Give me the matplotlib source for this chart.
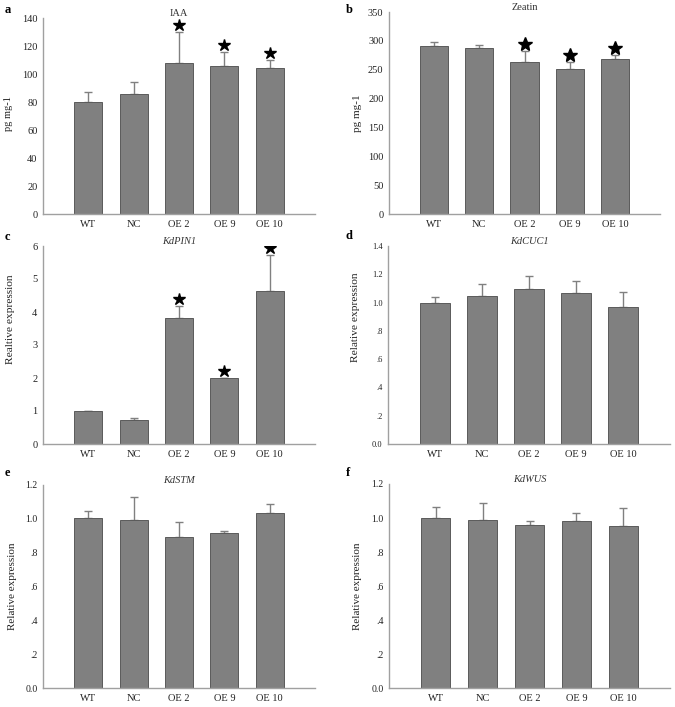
import matplotlib
matplotlib.use('Agg')
import matplotlib.pyplot as plt

plt.rcParams['font.family'] = ['Liberation Serif', 'DejaVu Serif']

# categories shared by all panels
lines = ['WT', 'NC', 'OE 2', 'OE 9', 'OE 10']

# a  IAA content
iaa = [80, 86, 108, 106, 104]
iaa_err = [7, 8.5, 22, 10, 6]
iaa_star = [False, False, True, True, True]

# b  Zeatin content
zeatin = [290.5, 288, 263.5, 251, 268]
zeatin_err = [7, 4, 19.5, 12, 8]
zeatin_star = [False, False, True, True, True]

# c  KdPIN1
pin1 = [0.99, 0.74, 3.81, 1.99, 4.64]
pin1_err = [0.02, 0.04, 0.38, 0.02, 1.09]
pin1_star = [False, False, True, True, True]

# d  KdCUC1
cuc1 = [1.00, 1.05, 1.094, 1.066, 0.967]
cuc1_err = [0.04, 0.08, 0.096, 0.09, 0.111]

# e  KdSTM
stm = [1.006, 0.994, 0.894, 0.915, 1.033]
stm_err = [0.041, 0.136, 0.09, 0.016, 0.054]

# f  KdWUS
wus = [1.002, 0.986, 0.957, 0.980, 0.953]
wus_err = [0.061, 0.102, 0.027, 0.047, 0.108]

W, H = 675, 707
fig = plt.figure(figsize=(W / 100, H / 100), dpi=100)


def px_axes(left, right, top, bottom):
    return fig.add_axes([left / W, 1 - bottom / H, (right - left) / W, (bottom - top) / H])


def draw_panel(ax, vals, errs, ymax, step, ticklabels, title, italic, ylabel,
               lab_x, lab_y, tick_fs, lab_fs, stars=None, star_size=9):
    x = list(range(len(lines)))
    ax.bar(x, vals, width=0.62, color='#808080', edgecolor='#5a5a5a', linewidth=0.7, zorder=2)
    ax.errorbar(x, vals, yerr=[[0] * len(vals), errs], fmt='none', ecolor='#808080',
                elinewidth=1.0, capsize=3, capthick=1.0, zorder=1)
    if stars is not None:
        for xi, v, e, s in zip(x, vals, errs, stars):
            if s:
                ax.plot(xi, v + e + ymax * 0.035, marker='*', color='black',
                        markersize=star_size, zorder=3)
    ax.set_xlim(-1, 5)
    ax.set_ylim(0, ymax)
    ticks = [i * step for i in range(len(ticklabels))]
    ax.set_yticks(ticks)
    ax.set_yticklabels(ticklabels, fontsize=tick_fs)
    ax.set_xticks(x)
    ax.set_xticklabels(lines, fontsize=7.5)
    ax.tick_params(length=0, pad=4, colors='#222222')
    for s in ['top', 'right']:
        ax.spines[s].set_visible(False)
    for s in ['left', 'bottom']:
        ax.spines[s].set_color('#a0a0a0')
        ax.spines[s].set_linewidth(1.0)
    ax.set_ylabel(ylabel, fontsize=lab_fs, color='#222222')
    ax.yaxis.set_label_coords(lab_x, lab_y)
    ax.text(0.5, 1.0, title, transform=ax.transAxes, ha='center', va='bottom',
            fontsize=7.5, style='italic' if italic else 'normal', color='#333333')


num = lambda v: [str(t) for t in v]
rel_ticks = ['0.0', '.2', '.4', '.6', '.8', '1.0', '1.2']

ax_a = px_axes(43, 315, 18, 214)
draw_panel(ax_a, iaa, iaa_err, 140, 20, num(range(0, 141, 20)), 'IAA', False,
           'pg mg-1', -0.11, 0.51, 7.5, 7.5, iaa_star)

ax_b = px_axes(389, 660, 12, 214)
draw_panel(ax_b, zeatin, zeatin_err, 350, 50, num(range(0, 351, 50)), 'Zeatin', False,
           'pg mg-1', -0.1, 0.5, 7.5, 8, zeatin_star, 10)

ax_c = px_axes(43, 315, 246, 444)
draw_panel(ax_c, pin1, pin1_err, 6, 1, num(range(0, 7)), 'KdPIN1', True,
           'Realtive expression', -0.103, 0.63, 7.5, 8.2, pin1_star)

ax_d = px_axes(388, 670, 246, 444)
draw_panel(ax_d, cuc1, cuc1_err, 1.4, 0.2, rel_ticks + ['1.4'], 'KdCUC1', True,
           'Relative expression', -0.1, 0.64, 6, 8.2)

ax_e = px_axes(43, 315, 485, 688)
draw_panel(ax_e, stm, stm_err, 1.2, 0.2, rel_ticks, 'KdSTM', True,
           'Relative expression', -0.096, 0.5, 7, 8)

ax_f = px_axes(389, 670, 484, 688)
draw_panel(ax_f, wus, wus_err, 1.2, 0.2, rel_ticks, 'KdWUS', True,
           'Relative expression', -0.096, 0.5, 7, 8)

# panel letters
for letter, xp, yp in [('a', 5, 10), ('b', 346, 10), ('c', 5, 237),
                       ('d', 346, 236), ('e', 5, 473), ('f', 346, 473)]:
    fig.text(xp / W, 1 - yp / H, letter, fontsize=9, fontweight='bold', va='center', ha='left')

fig.savefig('out.png', dpi=100, facecolor='white')
